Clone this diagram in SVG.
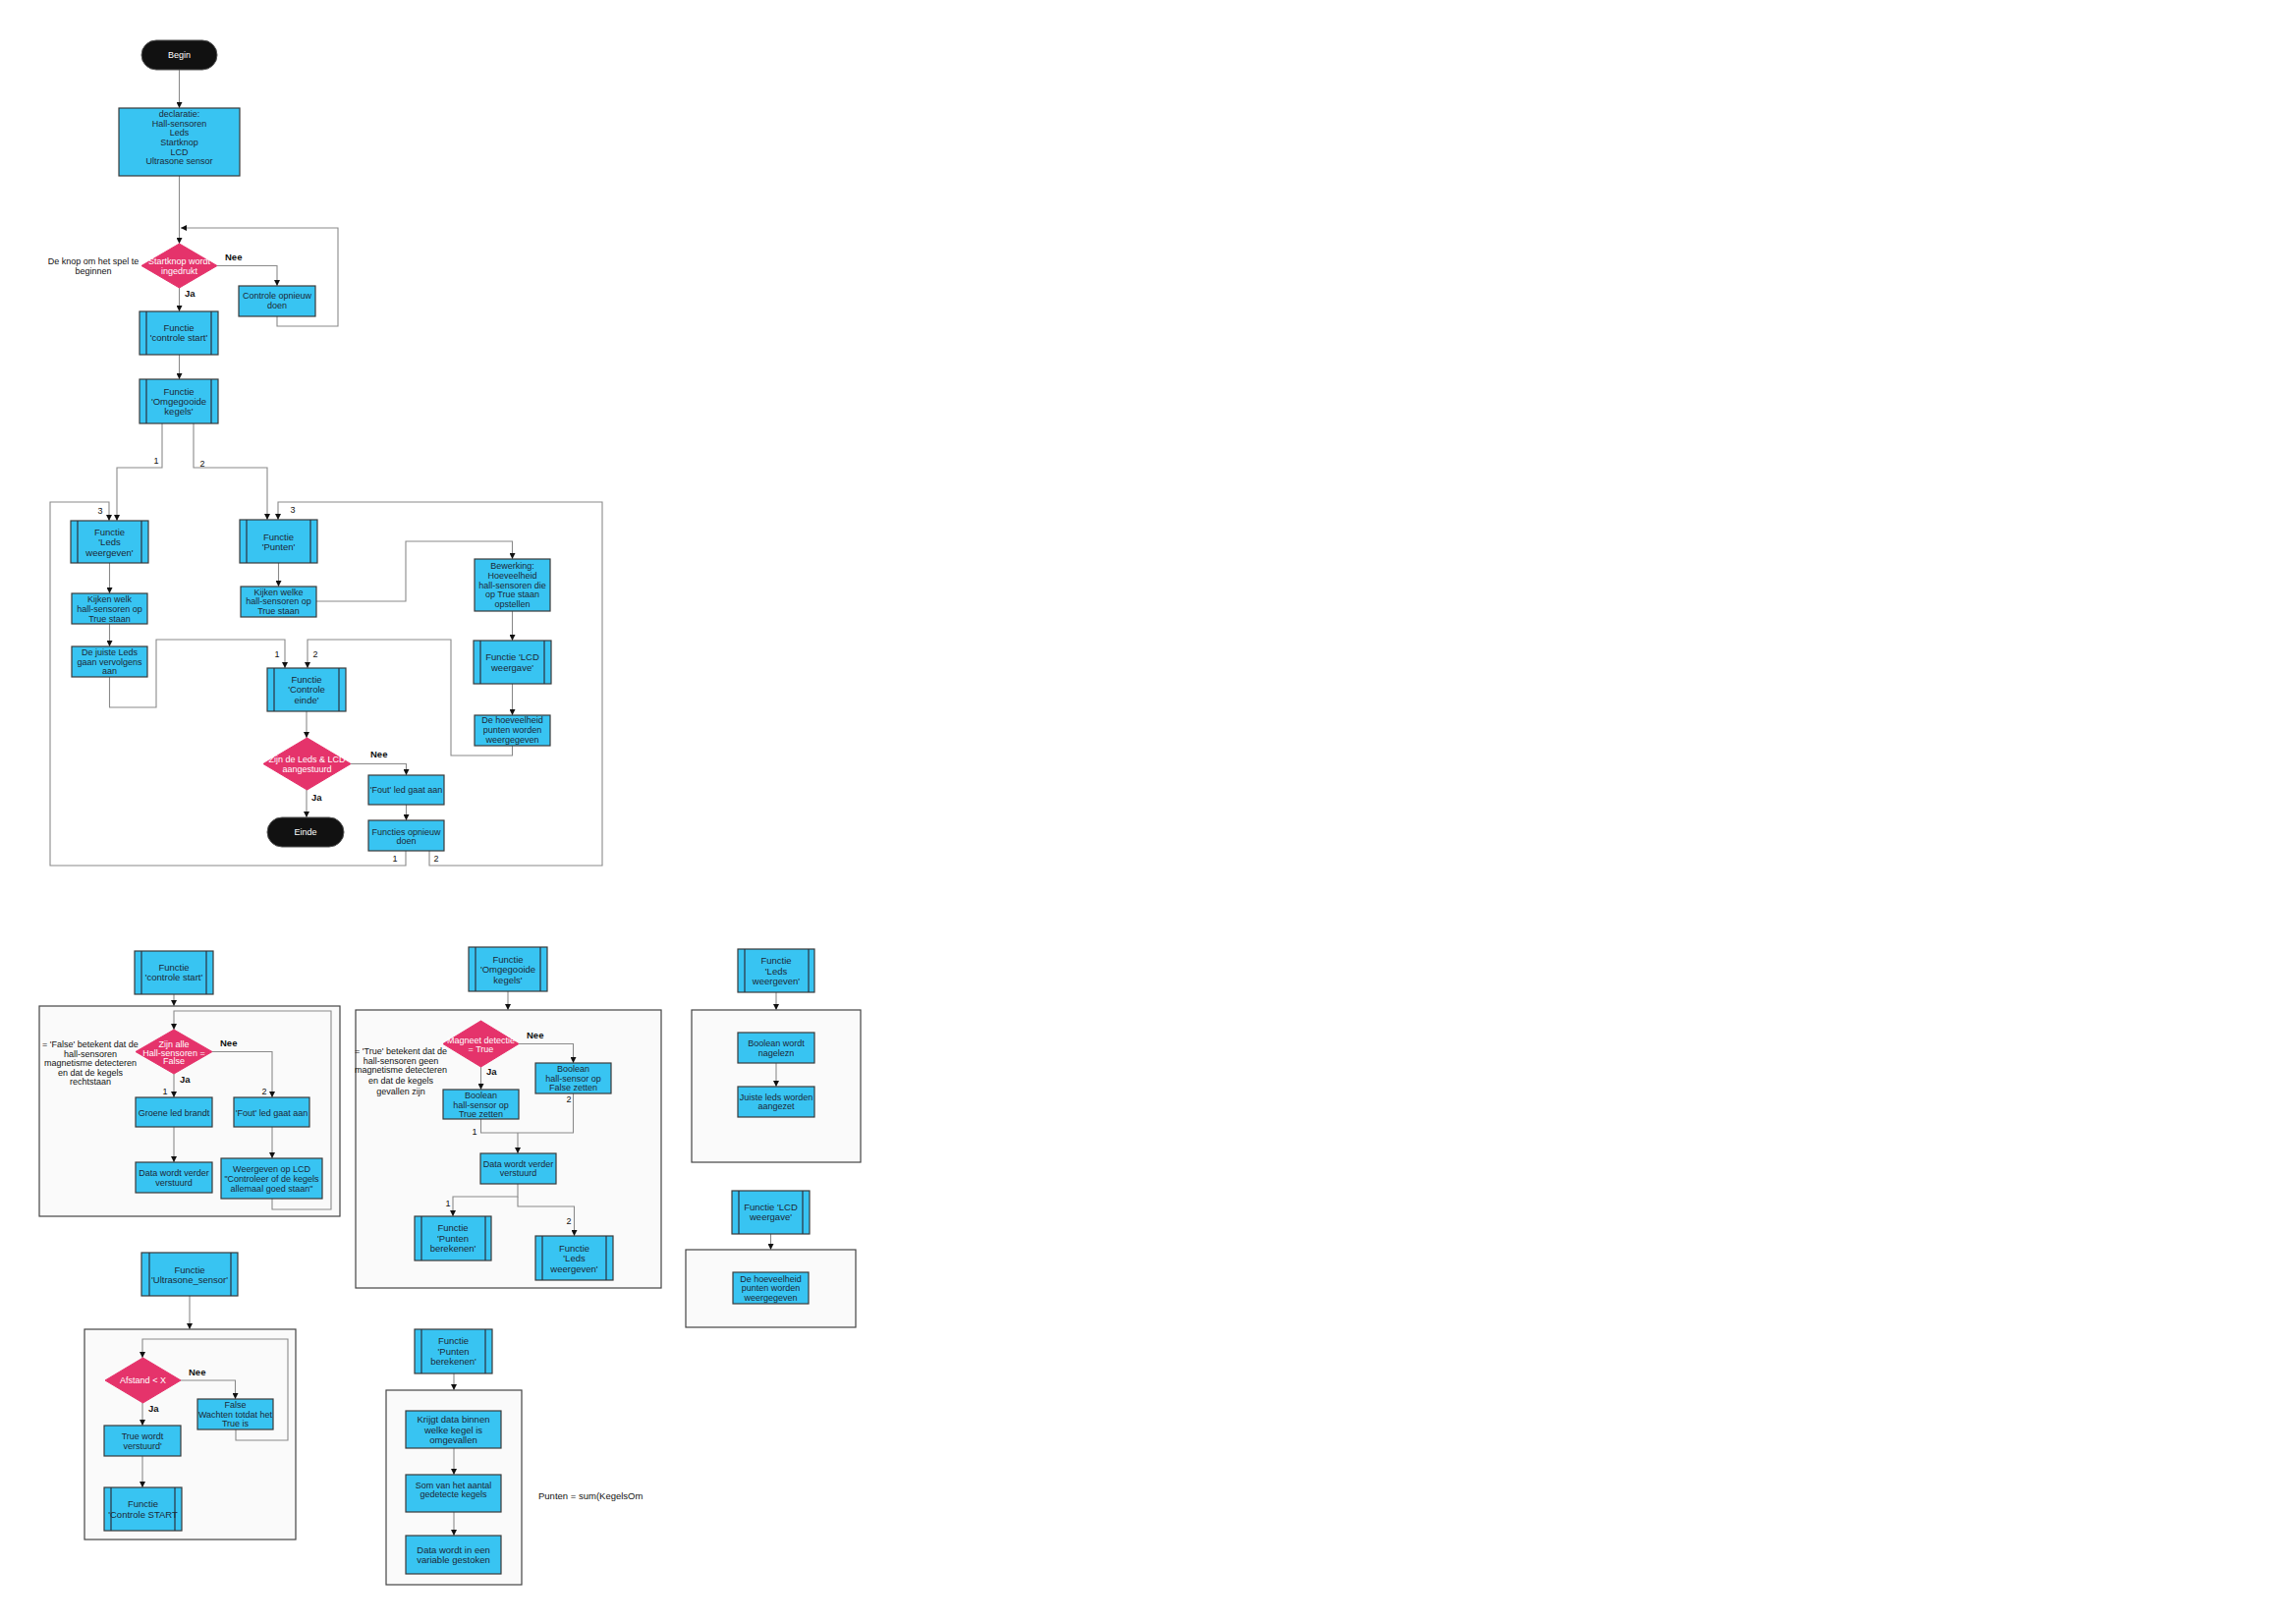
<svg xmlns="http://www.w3.org/2000/svg" width="2337" height="1653" viewBox="0 0 2337 1653">
<style>
.bx{fill:#38c4f2;stroke:#3a3a3a;stroke-width:1.2}
.il{stroke:#2a3340;stroke-width:1.2;fill:none}
.dm{fill:#e5336b;stroke:#e5336b;stroke-width:1}
.tm{fill:#111;stroke:#555;stroke-width:1}
.ct{fill:#fafafa;stroke:#444;stroke-width:1.2}
.cn path{fill:none;stroke:#8a8a8a;stroke-width:1.1}
.ar{marker-end:url(#a)}
text{font-family:"Liberation Sans",Arial,sans-serif;font-size:9px;text-anchor:middle;fill:#1c2836}
.s9{font-size:9.5px}
.w{fill:#fff}
.k{fill:#111}
.nb{font-weight:bold;fill:#111;text-anchor:start;font-size:9.5px}
.lb{fill:#111}
.st{text-anchor:start;fill:#111;font-size:9.5px}
</style>
<defs>
<marker id="a" viewBox="0 0 10 10" refX="10" refY="5" markerWidth="6" markerHeight="6" markerUnits="userSpaceOnUse" orient="auto"><path d="M0,0L10,5L0,10z" fill="#111"/></marker>
</defs>
<rect width="2337" height="1653" fill="#fff"/>

<g id="containers">
<rect class="ct" x="40" y="1024" width="306" height="214"/>
<rect class="ct" x="362" y="1028" width="311" height="283"/>
<rect class="ct" x="704" y="1028" width="172" height="155"/>
<rect class="ct" x="698" y="1272" width="173" height="79"/>
<rect class="ct" x="86" y="1353" width="215" height="214"/>
<rect class="ct" x="393" y="1415" width="138" height="198"/>
</g>

<g id="connectors" class="cn">
<path class="ar" d="M182.5,71V110"/>
<path class="ar" d="M182.5,179V248"/>
<path class="ar" d="M282,322V332H344V232H184"/>
<path class="ar" d="M221,270.5H282V291"/>
<path class="ar" d="M182.5,293V317"/>
<path class="ar" d="M182.5,361V386"/>
<path class="ar" d="M165,431V476H119V530"/>
<path class="ar" d="M197,431V476H272V529"/>
<path class="ar" d="M413,866V881H51V511H111V530"/>
<path class="ar" d="M437,866V881H613V511H283V529"/>
<path class="ar" d="M111.5,573V604"/>
<path class="ar" d="M111.5,635V658"/>
<path class="ar" d="M111.5,689V720H159V651H290V680"/>
<path class="ar" d="M283.5,573V597"/>
<path class="ar" d="M322,612H413V551H521.5V569"/>
<path class="ar" d="M521.5,622V652"/>
<path class="ar" d="M521.5,696V728"/>
<path class="ar" d="M521.5,759V769H459V651H313V680"/>
<path class="ar" d="M312,724V751"/>
<path class="ar" d="M312,804V832"/>
<path class="ar" d="M357,777.5H413.5V789"/>
<path class="ar" d="M413.5,819V835"/>

<path class="ar" d="M177,1012V1024"/>
<path class="ar" d="M277,1220V1231H337V1029H177V1048"/>
<path class="ar" d="M216,1070.5H277V1117"/>
<path class="ar" d="M177,1093V1117"/>
<path class="ar" d="M177,1147V1183"/>
<path class="ar" d="M277,1147V1179"/>

<path class="ar" d="M517,1009V1028"/>
<path class="ar" d="M528,1062.5H583.5V1082"/>
<path class="ar" d="M489.5,1086V1109"/>
<path d="M489.5,1139V1153H527"/>
<path d="M583.5,1113V1153H527"/>
<path class="ar" d="M527,1153V1174"/>
<path class="ar" d="M527,1205V1218H461V1238"/>
<path class="ar" d="M527,1218V1228H584.5V1258"/>

<path class="ar" d="M790,1010V1028"/>
<path class="ar" d="M790,1082V1106"/>
<path class="ar" d="M784.5,1256V1272"/>

<path class="ar" d="M193,1319V1353"/>
<path class="ar" d="M240,1455V1466H293V1363H145V1382"/>
<path class="ar" d="M184,1405H239.5V1424"/>
<path class="ar" d="M145,1428V1451"/>
<path class="ar" d="M145,1482V1514"/>

<path class="ar" d="M462,1398V1415"/>
<path class="ar" d="M462,1474V1501"/>
<path class="ar" d="M462,1539V1563"/>
</g>

<g id="labels">
<text class="lb" x="159" y="472">1</text>
<text class="lb" x="206" y="475">2</text>
<text class="lb" x="102" y="523">3</text>
<text class="lb" x="298" y="522">3</text>
<text class="lb" x="282" y="669">1</text>
<text class="lb" x="321" y="669">2</text>
<text class="lb" x="402" y="877">1</text>
<text class="lb" x="444" y="877">2</text>
<text class="nb" x="229" y="265">Nee</text>
<text class="nb" x="188" y="302">Ja</text>
<text class="nb" x="377" y="771">Nee</text>
<text class="nb" x="317" y="815">Ja</text>
<text class="nb" x="224" y="1065">Nee</text>
<text class="nb" x="183" y="1102">Ja</text>
<text class="lb" x="168" y="1114">1</text>
<text class="lb" x="269" y="1114">2</text>
<text class="nb" x="536" y="1057">Nee</text>
<text class="nb" x="495" y="1094">Ja</text>
<text class="lb" x="483" y="1155">1</text>
<text class="lb" x="579" y="1122">2</text>
<text class="lb" x="456" y="1228">1</text>
<text class="lb" x="579" y="1246">2</text>
<text class="nb" x="192" y="1400">Nee</text>
<text class="nb" x="151" y="1437">Ja</text>
</g>

<g id="notes">
<text class="k" x="95" y="269">De knop om het spel te</text>
<text class="k" x="95" y="279">beginnen</text>
<text class="k" x="92" y="1066">= 'False' betekent dat de</text>
<text class="k" x="92" y="1076">hall-sensoren</text>
<text class="k" x="92" y="1085">magnetisme detecteren</text>
<text class="k" x="92" y="1095">en dat de kegels</text>
<text class="k" x="92" y="1104">rechtstaan</text>
<text class="k" x="408" y="1073">= 'True' betekent dat de</text>
<text class="k" x="408" y="1083">hall-sensoren geen</text>
<text class="k" x="408" y="1092">magnetisme detecteren</text>
<text class="k" x="408" y="1103">en dat de kegels</text>
<text class="k" x="408" y="1114">gevallen zijn</text>
<text class="st" x="548" y="1526">Punten = sum(KegelsOm</text>
</g>

<g id="begin"><rect class="tm" x="144" y="41" width="77" height="30" rx="15"/><text class="w" x="182.5" y="59">Begin</text></g>
<g id="declaratie"><rect class="bx" x="121" y="110" width="123" height="69"/>
<text x="182.5" y="119">declaratie:</text><text x="182.5" y="128.5">Hall-sensoren</text><text x="182.5" y="138">Leds</text><text x="182.5" y="148">Startknop</text><text x="182.5" y="157.5">LCD</text><text x="182.5" y="167">Ultrasone sensor</text></g>
<g id="startknop"><polygon class="dm" points="182.5,248 221,270.5 182.5,293 144,270.5"/><text class="w" x="182.5" y="269">Startknop wordt</text><text class="w" x="182.5" y="279">ingedrukt</text></g>
<g id="controle-opnieuw"><rect class="bx" x="243" y="291" width="78" height="31"/><text x="282" y="304">Controle opnieuw</text><text x="282" y="314">doen</text></g>
<g id="f-controle-start"><rect class="bx" x="142" y="317" width="80" height="44"/><path class="il" d="M149,317V361M215,317V361"/><text class="s9" x="182" y="337">Functie</text><text class="s9" x="182" y="347">'controle start'</text></g>
<g id="f-omgegooide"><rect class="bx" x="142" y="386" width="80" height="45"/><path class="il" d="M149,386V431M215,386V431"/><text class="s9" x="182" y="402">Functie</text><text class="s9" x="182" y="412">'Omgegooide</text><text class="s9" x="182" y="422">kegels'</text></g>
<g id="f-leds"><rect class="bx" x="72" y="530" width="79" height="43"/><path class="il" d="M79,530V573M144,530V573"/><text class="s9" x="111.5" y="545">Functie</text><text class="s9" x="111.5" y="555">'Leds</text><text class="s9" x="111.5" y="566">weergeven'</text></g>
<g id="kijken-welk"><rect class="bx" x="73" y="604" width="77" height="31"/><text x="111.5" y="613">Kijken welk</text><text x="111.5" y="623">hall-sensoren op</text><text x="111.5" y="633">True staan</text></g>
<g id="juiste-leds"><rect class="bx" x="73" y="658" width="77" height="31"/><text x="111.5" y="667">De juiste Leds</text><text x="111.5" y="677">gaan vervolgens</text><text x="111.5" y="686">aan</text></g>
<g id="f-punten"><rect class="bx" x="244" y="529" width="79" height="44"/><path class="il" d="M251,529V573M316,529V573"/><text class="s9" x="283.5" y="550">Functie</text><text class="s9" x="283.5" y="560">'Punten'</text></g>
<g id="kijken-welke"><rect class="bx" x="245" y="597" width="77" height="31"/><text x="283.5" y="606">Kijken welke</text><text x="283.5" y="615">hall-sensoren op</text><text x="283.5" y="625">True staan</text></g>
<g id="bewerking"><rect class="bx" x="483" y="569" width="77" height="53"/><text x="521.5" y="579">Bewerking:</text><text x="521.5" y="589">Hoeveelheid</text><text x="521.5" y="599">hall-sensoren die</text><text x="521.5" y="608">op True staan</text><text x="521.5" y="618">opstellen</text></g>
<g id="f-lcd"><rect class="bx" x="482" y="652" width="79" height="44"/><path class="il" d="M489,652V696M554,652V696"/><text class="s9" x="521.5" y="672">Functie 'LCD</text><text class="s9" x="521.5" y="683">weergave'</text></g>
<g id="hoeveelheid"><rect class="bx" x="483" y="728" width="77" height="31"/><text x="521.5" y="736">De hoeveelheid</text><text x="521.5" y="746">punten worden</text><text x="521.5" y="756">weergegeven</text></g>
<g id="f-controle-einde"><rect class="bx" x="272" y="680" width="80" height="44"/><path class="il" d="M279,680V724M345,680V724"/><text class="s9" x="312" y="695">Functie</text><text class="s9" x="312" y="705">'Controle</text><text class="s9" x="312" y="716">einde'</text></g>
<g id="zijn-leds"><polygon class="dm" points="312.5,751 357,777.5 312.5,804 268,777.5"/><text class="w" x="312.5" y="776">Zijn de Leds &amp; LCD</text><text class="w" x="312.5" y="786">aangestuurd</text></g>
<g id="einde"><rect class="tm" x="272" y="832" width="78" height="30" rx="15"/><text class="w" x="311" y="850">Einde</text></g>
<g id="fout-led"><rect class="bx" x="375" y="789" width="77" height="30"/><text x="413.5" y="807">'Fout' led gaat aan</text></g>
<g id="functies-opnieuw"><rect class="bx" x="375" y="835" width="77" height="31"/><text x="413.5" y="850">Functies opnieuw</text><text x="413.5" y="859">doen</text></g>

<g id="d-controle-start"><rect class="bx" x="137" y="968" width="80" height="44"/><path class="il" d="M144,968V1012M210,968V1012"/><text class="s9" x="177" y="988">Functie</text><text class="s9" x="177" y="998">'controle start'</text></g>
<g id="zijn-alle"><polygon class="dm" points="177,1048 216,1070.5 177,1093 138,1070.5"/><text class="w" x="177" y="1066">Zijn alle</text><text class="w" x="177" y="1074.5">Hall-sensoren =</text><text class="w" x="177" y="1083">False</text></g>
<g id="groene-led"><rect class="bx" x="138" y="1117" width="78" height="30"/><text x="177" y="1136">Groene led brandt</text></g>
<g id="fout-led-2"><rect class="bx" x="238" y="1117" width="77" height="30"/><text x="276.5" y="1136">'Fout' led gaat aan</text></g>
<g id="data-verder-1"><rect class="bx" x="138" y="1183" width="78" height="31"/><text x="177" y="1197">Data wordt verder</text><text x="177" y="1207">verstuurd</text></g>
<g id="weergeven-lcd"><rect class="bx" x="225" y="1179" width="103" height="41"/><text x="276.5" y="1193">Weergeven op LCD</text><text x="276.5" y="1203">"Controleer of de kegels</text><text x="276.5" y="1213">allemaal goed staan"</text></g>

<g id="d-omgegooide"><rect class="bx" x="477" y="964" width="80" height="45"/><path class="il" d="M484,964V1009M550,964V1009"/><text class="s9" x="517" y="980">Functie</text><text class="s9" x="517" y="990">'Omgegooide</text><text class="s9" x="517" y="1001">kegels'</text></g>
<g id="magneet"><polygon class="dm" points="489.5,1039 528,1062.5 489.5,1086 451,1062.5"/><text class="w" x="489.5" y="1062">Magneet detectie</text><text class="w" x="489.5" y="1071">= True</text></g>
<g id="bool-false"><rect class="bx" x="545" y="1082" width="77" height="31"/><text x="583.5" y="1091">Boolean</text><text x="583.5" y="1101">hall-sensor op</text><text x="583.5" y="1110">False zetten</text></g>
<g id="bool-true"><rect class="bx" x="451" y="1109" width="77" height="30"/><text x="489.5" y="1118">Boolean</text><text x="489.5" y="1128">hall-sensor op</text><text x="489.5" y="1137">True zetten</text></g>
<g id="data-verder-2"><rect class="bx" x="489" y="1174" width="77" height="31"/><text x="527.5" y="1188">Data wordt verder</text><text x="527.5" y="1197">verstuurd</text></g>
<g id="d-punten-berekenen-a"><rect class="bx" x="422" y="1238" width="78" height="45"/><path class="il" d="M429,1238V1283M494,1238V1283"/><text class="s9" x="461" y="1253">Functie</text><text class="s9" x="461" y="1264">'Punten</text><text class="s9" x="461" y="1274">berekenen'</text></g>
<g id="d-leds-a"><rect class="bx" x="545" y="1258" width="79" height="45"/><path class="il" d="M552,1258V1303M617,1258V1303"/><text class="s9" x="584.5" y="1274">Functie</text><text class="s9" x="584.5" y="1284">'Leds</text><text class="s9" x="584.5" y="1295">weergeven'</text></g>

<g id="d-leds"><rect class="bx" x="751" y="966" width="78" height="44"/><path class="il" d="M758,966V1010M823,966V1010"/><text class="s9" x="790" y="981">Functie</text><text class="s9" x="790" y="992">'Leds</text><text class="s9" x="790" y="1002">weergeven'</text></g>
<g id="bool-nagelezn"><rect class="bx" x="751" y="1051" width="78" height="31"/><text x="790" y="1065">Boolean wordt</text><text x="790" y="1075">nagelezn</text></g>
<g id="juiste-leds-2"><rect class="bx" x="751" y="1106" width="78" height="31"/><text x="790" y="1120">Juiste leds worden</text><text x="790" y="1129">aangezet</text></g>

<g id="d-lcd"><rect class="bx" x="745" y="1212" width="79" height="44"/><path class="il" d="M752,1212V1256M817,1212V1256"/><text class="s9" x="784.5" y="1232">Functie 'LCD</text><text class="s9" x="784.5" y="1242">weergave'</text></g>
<g id="hoeveelheid-2"><rect class="bx" x="746" y="1295" width="77" height="32"/><text x="784.5" y="1305">De hoeveelheid</text><text x="784.5" y="1314">punten worden</text><text x="784.5" y="1324">weergegeven</text></g>

<g id="d-ultrasone"><rect class="bx" x="144" y="1275" width="98" height="44"/><path class="il" d="M152,1275V1319M235,1275V1319"/><text class="s9" x="193" y="1296">Functie</text><text class="s9" x="193" y="1306">'Ultrasone_sensor'</text></g>
<g id="afstand"><polygon class="dm" points="145.5,1382 184,1405 145.5,1428 107,1405"/><text class="w" x="145.5" y="1408">Afstand &lt; X</text></g>
<g id="false-wachten"><rect class="bx" x="201" y="1424" width="77" height="31"/><text x="239.5" y="1433">False</text><text x="239.5" y="1443">Wachten totdat het</text><text x="239.5" y="1452">True is</text></g>
<g id="true-verstuurd"><rect class="bx" x="106" y="1451" width="78" height="31"/><text x="145" y="1465">True wordt</text><text x="145" y="1475">verstuurd'</text></g>
<g id="d-controle-START"><rect class="bx" x="106" y="1514" width="79" height="44"/><path class="il" d="M113,1514V1558M178,1514V1558"/><text class="s9" x="145.5" y="1534">Functie</text><text class="s9" x="145.5" y="1545">'Controle START</text></g>

<g id="d-punten-berekenen"><rect class="bx" x="422" y="1353" width="79" height="45"/><path class="il" d="M429,1353V1398M494,1353V1398"/><text class="s9" x="461.5" y="1368">Functie</text><text class="s9" x="461.5" y="1379">'Punten</text><text class="s9" x="461.5" y="1389">berekenen'</text></g>
<g id="krijgt-data"><rect class="bx" x="413" y="1436" width="97" height="38"/><text class="s9" x="461.5" y="1448">Krijgt data binnen</text><text class="s9" x="461.5" y="1459">welke kegel is</text><text class="s9" x="461.5" y="1469">omgevallen</text></g>
<g id="som"><rect class="bx" x="413" y="1501" width="97" height="38"/><text x="461.5" y="1515">Som van het aantal</text><text x="461.5" y="1524">gedetecte kegels</text></g>
<g id="data-variable"><rect class="bx" x="413" y="1563" width="97" height="39"/><text class="s9" x="461.5" y="1581">Data wordt in een</text><text class="s9" x="461.5" y="1591">variable gestoken</text></g>
</svg>
